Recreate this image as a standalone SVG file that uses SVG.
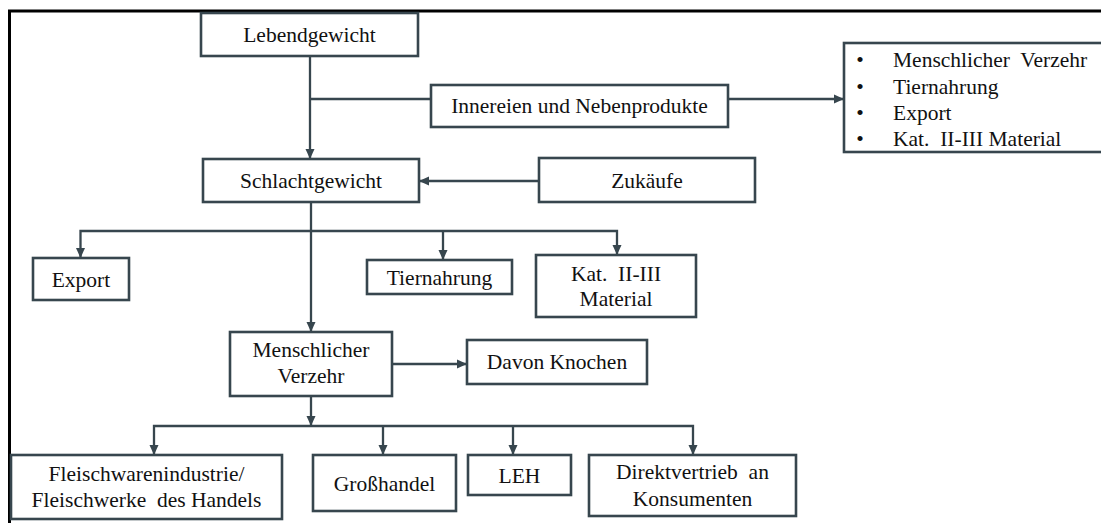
<svg xmlns="http://www.w3.org/2000/svg" width="1101" height="523" viewBox="0 0 1101 523">
  <style>
    .box { fill: #ffffff; stroke: #37464e; stroke-width: 2.6; }
    .lbl { font-family: "Liberation Serif", "Times New Roman", serif; font-size: 21.5px; fill: #111111; text-anchor: middle; }
    .lst { font-family: "Liberation Serif", "Times New Roman", serif; font-size: 21.5px; fill: #111111; }
    .con { fill: none; stroke: #37464e; stroke-width: 2.3; }
    .arr { marker-end: url(#head); }
    .frame { fill: none; stroke: #000000; stroke-width: 3; }
  </style>
  <defs>
    <marker id="head" markerUnits="userSpaceOnUse" markerWidth="10" markerHeight="10" refX="10" refY="5" orient="auto">
      <path d="M0,0.5 L10,5 L0,9.5 z" fill="#37464e"/>
    </marker>
  </defs>

  <rect width="1101" height="523" fill="#ffffff"/>

  <!-- outer frame (top and left edges) -->
  <path class="frame" d="M9.5,523 V11 H1101"/>

  <!-- connectors -->
  <g id="connectors">
    <path class="con arr" d="M310,56 V159"/>
    <path class="con" d="M310,99 H431"/>
    <path class="con arr" d="M728,99 H844"/>
    <path class="con arr" d="M539,181 H419"/>
    <path class="con arr" d="M311,202 V332"/>
    <path class="con arr" d="M311,231 H80.5 V258"/>
    <path class="con arr" d="M311,231 H617 V255"/>
    <path class="con arr" d="M443,231 V260"/>
    <path class="con arr" d="M392,364 H467"/>
    <path class="con arr" d="M311,396 V426"/>
    <path class="con arr" d="M311,426 H154 V455"/>
    <path class="con arr" d="M311,426 H693 V455"/>
    <path class="con arr" d="M383,426 V455"/>
    <path class="con arr" d="M513,426 V455"/>
  </g>

  <g id="lebendgewicht">
    <rect class="box" x="201" y="13" width="217" height="43"/>
    <text class="lbl" x="309.5" y="42">Lebendgewicht</text>
  </g>

  <g id="innereien">
    <rect class="box" x="431" y="85" width="297" height="42"/>
    <text class="lbl" x="579.5" y="113">Innereien und Nebenprodukte</text>
  </g>

  <g id="verwertung">
    <rect class="box" x="844" y="43" width="262" height="109"/>
    <text class="lst" x="860" y="67" text-anchor="middle">•</text>
    <text class="lst" x="893" y="67" xml:space="preserve">Menschlicher  Verzehr</text>
    <text class="lst" x="860" y="93.5" text-anchor="middle">•</text>
    <text class="lst" x="893" y="93.5">Tiernahrung</text>
    <text class="lst" x="860" y="120" text-anchor="middle">•</text>
    <text class="lst" x="893" y="120">Export</text>
    <text class="lst" x="860" y="146" text-anchor="middle">•</text>
    <text class="lst" x="893" y="146" xml:space="preserve">Kat.  II-III Material</text>
  </g>

  <g id="schlachtgewicht">
    <rect class="box" x="203" y="159" width="216" height="43"/>
    <text class="lbl" x="311" y="188">Schlachtgewicht</text>
  </g>

  <g id="zukaeufe">
    <rect class="box" x="539" y="158" width="216" height="44"/>
    <text class="lbl" x="647" y="188">Zukäufe</text>
  </g>

  <g id="export">
    <rect class="box" x="33" y="258" width="96" height="42"/>
    <text class="lbl" x="81" y="287">Export</text>
  </g>

  <g id="tiernahrung">
    <rect class="box" x="367" y="260" width="145" height="34"/>
    <text class="lbl" x="439.5" y="285">Tiernahrung</text>
  </g>

  <g id="material">
    <rect class="box" x="536" y="255" width="160" height="62"/>
    <text class="lbl" x="616" y="281" xml:space="preserve">Kat.  II-III</text>
    <text class="lbl" x="616" y="306">Material</text>
  </g>

  <g id="verzehr">
    <rect class="box" x="230" y="332" width="162" height="64"/>
    <text class="lbl" x="311" y="357">Menschlicher</text>
    <text class="lbl" x="311" y="383">Verzehr</text>
  </g>

  <g id="knochen">
    <rect class="box" x="467" y="340" width="180" height="44"/>
    <text class="lbl" x="557" y="369">Davon Knochen</text>
  </g>

  <g id="fleischwaren">
    <rect class="box" x="11" y="455" width="271" height="64"/>
    <text class="lbl" x="146.5" y="481">Fleischwarenindustrie/</text>
    <text class="lbl" x="146.5" y="507" xml:space="preserve">Fleischwerke  des Handels</text>
  </g>

  <g id="grosshandel">
    <rect class="box" x="313" y="455" width="143" height="56"/>
    <text class="lbl" x="384.5" y="491">Großhandel</text>
  </g>

  <g id="leh">
    <rect class="box" x="468" y="455" width="103" height="40"/>
    <text class="lbl" x="519.5" y="483">LEH</text>
  </g>

  <g id="direktvertrieb">
    <rect class="box" x="589" y="455" width="207" height="61"/>
    <text class="lbl" x="692.5" y="479" xml:space="preserve">Direktvertrieb  an</text>
    <text class="lbl" x="692.5" y="506">Konsumenten</text>
  </g>
</svg>
